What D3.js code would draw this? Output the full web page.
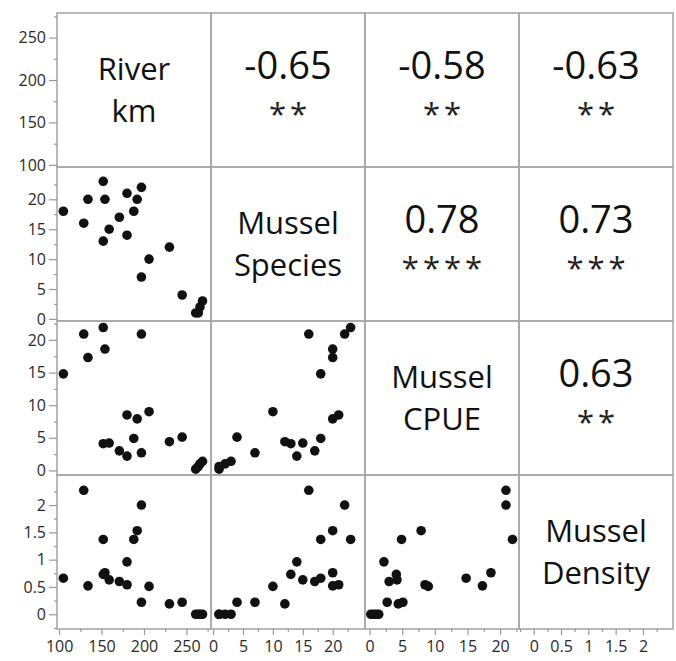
<!DOCTYPE html>
<html>
<head>
<meta charset="utf-8">
<script src="https://cdn.jsdelivr.net/npm/d3@7"></script>
<style>
  body { margin: 0; background: #fff; }
  svg { display: block; font-family: "Open Sans", sans-serif; }
</style>
</head>
<body>
<div id="chart"></div>
<script>
// one value per sampling site
const riverKm = [105, 129, 134, 152, 154, 152, 159, 171, 180, 180, 192, 188, 197, 197, 206, 230, 245, 261, 264, 266, 269];
const species = [18, 16, 20, 23, 20, 13, 15, 17, 21, 14, 20, 18, 22, 7, 10, 12, 4, 1, 1, 2, 3];
const cpue = [14.8, 20.9, 17.3, 21.9, 18.6, 4.1, 4.2, 3.0, 8.5, 2.2, 7.9, 4.9, 20.9, 2.7, 9.0, 4.4, 5.1, 0.2, 0.6, 1.0, 1.4];
const density = [0.66, 2.27, 0.52, 1.37, 0.76, 0.73, 0.63, 0.6, 0.54, 0.96, 1.53, 1.37, 2.0, 0.22, 0.51, 0.19, 0.22, 0, 0, 0, 0];

const varNames = [["River", "km"], ["Mussel", "Species"], ["Mussel", "CPUE"], ["Mussel", "Density"]];
const tickLabels = [
  [100, 150, 200, 250],
  [0, 5, 10, 15, 20],
  [0, 5, 10, 15, 20],
  [0, 0.5, 1, 1.5, 2]
];

// upper triangle: correlation coefficient and significance stars
const corrRow = [0, 0, 0, 1, 1, 2];
const corrCol = [1, 2, 3, 2, 3, 3];
const corrValue = ["-0.65", "-0.58", "-0.63", "0.78", "0.73", "0.63"];
const corrStars = ["**", "**", "**", "****", "***", "**"];

const columns = [riverKm, species, cpue, density];
const domains = [[97.5, 279], [-0.35, 25.4], [-0.7, 22.9], [-0.27, 2.55]];

const width = 676, height = 661;
const x0 = 57, y0 = 13, cell = 154;
const n = columns.length;

const svg = d3.select("#chart")
  .append("svg")
  .attr("width", width)
  .attr("height", height)
  .attr("viewBox", [0, 0, width, height]);

// scales per variable, x (horizontal in its column) and y (vertical in its row)
const xs = domains.map((d, i) => d3.scaleLinear().domain(d).range([x0 + i * cell, x0 + (i + 1) * cell]));
const ys = domains.map((d, i) => d3.scaleLinear().domain(d).range([y0 + (i + 1) * cell, y0 + i * cell]));

function minorTicks(ticks, domain) {
  const step = ticks[1] - ticks[0];
  const out = [];
  for (let v = ticks[0] - step / 2; v <= domain[1]; v += step) {
    if (v >= domain[0]) out.push(v);
  }
  return out;
}

// scatter cells (lower triangle)
for (let r = 0; r < n; r++) {
  for (let c = 0; c < r; c++) {
    svg.append("g")
      .selectAll("circle")
      .data(d3.range(riverKm.length))
      .join("circle")
      .attr("cx", (i) => xs[c](columns[c][i]))
      .attr("cy", (i) => ys[r](columns[r][i]))
      .attr("r", 4.8)
      .attr("fill", "#111");
  }
}

// cell frames
for (let r = 0; r < n; r++) {
  for (let c = 0; c < n; c++) {
    svg.append("rect")
      .attr("x", x0 + c * cell)
      .attr("y", y0 + r * cell)
      .attr("width", cell)
      .attr("height", cell)
      .attr("fill", "none")
      .attr("stroke", "#a8a8a8")
      .attr("stroke-width", 1.6);
  }
}

// diagonal names
varNames.forEach((lines, i) => {
  const t = svg.append("text")
    .attr("text-anchor", "middle")
    .attr("font-size", 31)
    .attr("fill", "#111");
  lines.forEach((s, k) => {
    t.append("tspan")
      .attr("x", x0 + i * cell + cell / 2)
      .attr("y", y0 + i * cell + 67 + k * 42)
      .text(s);
  });
});

// correlations
corrValue.forEach((v, k) => {
  const cx = x0 + corrCol[k] * cell + cell / 2;
  const cy = y0 + corrRow[k] * cell;
  svg.append("text")
    .attr("x", cx)
    .attr("y", cy + 66)
    .attr("text-anchor", "middle")
    .attr("font-size", 38)
    .attr("fill", "#111")
    .text(v);
  svg.append("text")
    .attr("x", cx + 2)
    .attr("y", cy + 112)
    .attr("text-anchor", "middle")
    .attr("font-size", 31)
    .attr("letter-spacing", 4)
    .attr("fill", "#222")
    .text(corrStars[k]);
});

// axes
for (let i = 0; i < n; i++) {
  const minor = minorTicks(tickLabels[i], domains[i]);

  const gl = svg.append("g")
    .attr("transform", `translate(${x0},0)`)
    .call(d3.axisLeft(ys[i]).tickValues(tickLabels[i]).tickSize(8).tickPadding(3).tickFormat(d3.format("")));
  svg.append("g")
    .attr("transform", `translate(${x0},0)`)
    .call(d3.axisLeft(ys[i]).tickValues(minor).tickSize(3).tickFormat(""))
    .call((g) => g.select(".domain").remove());

  const gb = svg.append("g")
    .attr("transform", `translate(0,${y0 + n * cell})`)
    .call(d3.axisBottom(xs[i]).tickValues(tickLabels[i]).tickSize(6).tickPadding(6).tickFormat(d3.format("")));
  svg.append("g")
    .attr("transform", `translate(0,${y0 + n * cell})`)
    .call(d3.axisBottom(xs[i]).tickValues(minor).tickSize(3).tickFormat(""))
    .call((g) => g.select(".domain").remove());

  [gl, gb].forEach((g) => {
    g.select(".domain").remove();
    g.selectAll("text").attr("font-size", 16).attr("fill", "#2a2a2a").attr("font-family", "Open Sans, sans-serif");
  });
}
svg.selectAll(".tick line").attr("stroke", "#999").attr("stroke-width", 1.2);
</script>
</body>
</html>
